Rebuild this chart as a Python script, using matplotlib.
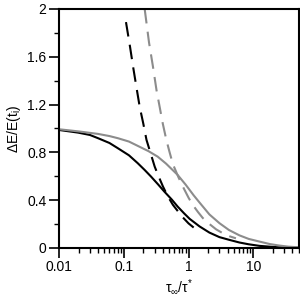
import numpy as np
import matplotlib.pyplot as plt
from matplotlib.ticker import LogLocator, MultipleLocator, FixedLocator

plt.rcParams['font.family'] = ['Liberation Sans', 'DejaVu Sans']

x_black = [0.01, 0.0196, 0.030, 0.040, 0.060, 0.081, 0.12, 0.164, 0.21, 0.263, 0.34, 0.423,
           0.55, 0.678, 0.85, 1.04, 1.25, 1.476, 2.1, 3.0, 4.2, 6.1, 8.5, 12.4, 18, 24.8, 35, 50]
y_black = [0.987, 0.965, 0.945, 0.918, 0.878, 0.834, 0.775, 0.709, 0.652, 0.597, 0.53, 0.471,
           0.405, 0.346, 0.29, 0.243, 0.21, 0.18, 0.128, 0.09, 0.068, 0.045, 0.03, 0.017, 0.01,
           0.005, 0.003, 0.001]

x_gray = [0.01, 0.02, 0.040, 0.060, 0.081, 0.12, 0.164, 0.24, 0.333, 0.45, 0.678, 0.9, 1.2,
          1.476, 2.1, 3.0, 4.2, 6.1, 8.5, 12.4, 18, 24.8, 35, 50]
y_gray = [0.993, 0.975, 0.954, 0.936, 0.918, 0.89, 0.854, 0.81, 0.764, 0.705, 0.611, 0.53, 0.44,
          0.38, 0.28, 0.207, 0.15, 0.105, 0.075, 0.053, 0.032, 0.02, 0.01, 0.005]

x_black_dash = [0.108, 0.125, 0.139, 0.155, 0.176, 0.2, 0.224, 0.26, 0.30, 0.35, 0.403, 0.48,
                0.574, 0.7, 0.817, 1.0, 1.2, 1.476]
y_black_dash = [1.89, 1.68, 1.517, 1.36, 1.18, 1.04, 0.904, 0.79, 0.68, 0.59, 0.513, 0.43,
                0.36, 0.3, 0.255, 0.205, 0.17, 0.137]

x_gray_dash = [0.21, 0.245, 0.282, 0.32, 0.358, 0.4, 0.454, 0.51, 0.574, 0.7, 0.817, 1.0, 1.16,
               1.4, 1.66, 2.1, 2.67, 3.4, 4.3, 5.4]
y_gray_dash = [2.0, 1.72, 1.517, 1.32, 1.18, 1.04, 0.904, 0.8, 0.7, 0.59, 0.513, 0.42, 0.36,
               0.3, 0.25, 0.2, 0.155, 0.122, 0.097, 0.08]

fig = plt.figure(figsize=(3.0, 2.99), dpi=100)
ax = fig.add_axes([0.197, 0.171, 0.798, 0.799])

ax.plot(x_black, y_black, color='black', lw=1.5)
ax.plot(x_gray, y_gray, color='#8c8c8c', lw=1.5)
ax.plot(x_black_dash, y_black_dash, color='black', lw=1.5, dashes=(7, 4))
ax.plot(x_gray_dash, y_gray_dash, color='#8c8c8c', lw=1.5, dashes=(7, 4))

ax.set_xscale('log')
ax.set_xlim(0.01, 50)
ax.set_ylim(0, 2)
ax.xaxis.set_major_locator(FixedLocator([0.01, 0.1, 1, 10]))
ax.xaxis.set_minor_locator(LogLocator(base=10, subs=np.arange(2, 10), numticks=20))
ax.set_xticklabels(['0.01', '0.1', '1', '10'])
ax.yaxis.set_minor_locator(MultipleLocator(0.2))
ax.set_yticks([0, 0.4, 0.8, 1.2, 1.6, 2])
ax.set_yticklabels(['0', '0.4', '0.8', '1.2', '1.6', '2'])

ax.tick_params(which='major', direction='out', length=7, width=1.2, labelsize=10, pad=2)
ax.tick_params(which='minor', direction='out', length=3.5, width=1.0)
for s in ax.spines.values():
    s.set_linewidth(1.5)

ax.set_xlabel(r'$\mathregular{\tau_{\infty}/\tau^{*}}$', fontsize=10, labelpad=2)
ax.set_ylabel(r'$\mathregular{\Delta E/E(t_{i})}$', fontsize=10, labelpad=3)

plt.savefig('out.png', dpi=100)
